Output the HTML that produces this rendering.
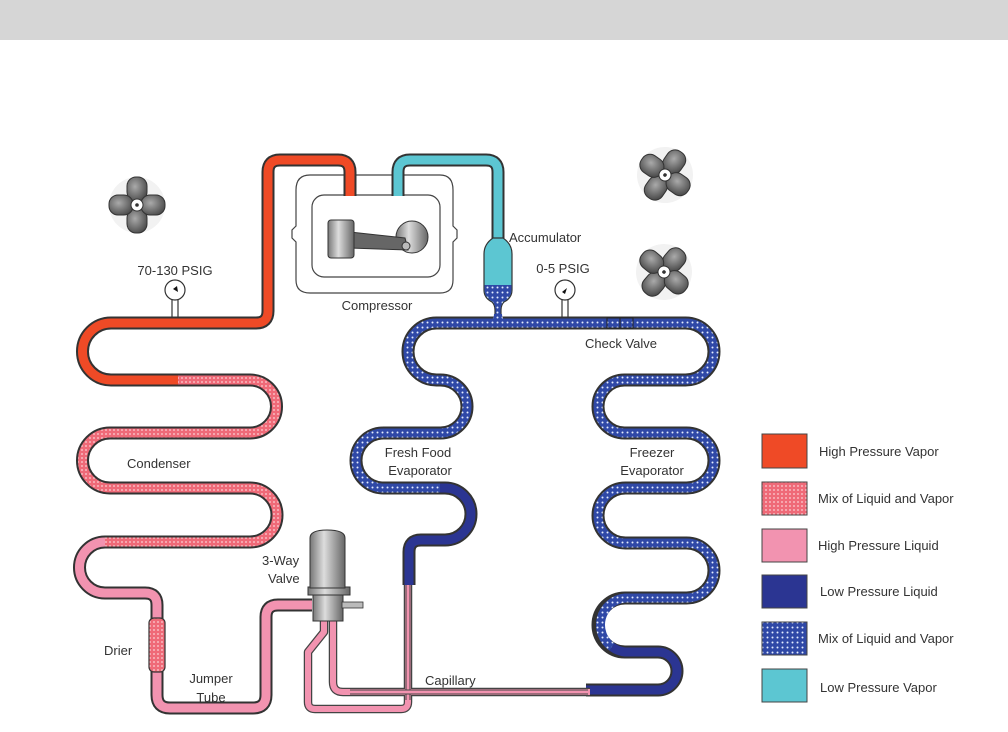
<!DOCTYPE html>
<html><head><meta charset="utf-8"><style>
html,body{margin:0;padding:0;background:#fff;}
svg{display:block;}
text{font-family:"Liberation Sans",Arial,sans-serif;fill:#333;font-size:13px;}
</style></head><body>
<svg width="1008" height="732" viewBox="0 0 1008 732" xmlns="http://www.w3.org/2000/svg">
<defs>
<pattern id="pm" patternUnits="userSpaceOnUse" width="4" height="4"><rect width="4" height="4" fill="#ef6a78"/><circle cx="2" cy="2" r="0.9" fill="#fbd0d4"/></pattern>
<pattern id="bm" patternUnits="userSpaceOnUse" width="5" height="5"><rect width="5" height="5" fill="#2f48a6"/><circle cx="2.5" cy="2.5" r="1" fill="#e4ecff"/></pattern>
<linearGradient id="gv" x1="0" x2="1"><stop offset="0" stop-color="#777"/><stop offset="0.4" stop-color="#ddd"/><stop offset="1" stop-color="#666"/></linearGradient>
<radialGradient id="gb" cx="0.4" cy="0.4" r="0.7"><stop offset="0" stop-color="#aaa"/><stop offset="1" stop-color="#444"/></radialGradient>
<g id="fan">
<circle r="28" fill="#f2f2f2"/>
<rect x="-10" y="-28" width="20" height="24" rx="9" fill="url(#gb)" stroke="#333"/>
<rect x="-10" y="4" width="20" height="24" rx="9" fill="url(#gb)" stroke="#333"/>
<rect x="-28" y="-10" width="24" height="20" rx="9" fill="url(#gb)" stroke="#333"/>
<rect x="4" y="-10" width="24" height="20" rx="9" fill="url(#gb)" stroke="#333"/>
<circle r="6" fill="#fff" stroke="#333"/><circle r="1.8" fill="#333"/>
</g>
</defs>
<rect x="0" y="0" width="1008" height="40" fill="#d6d6d6"/>

<use href="#fan" transform="translate(137,205)"/>
<use href="#fan" transform="translate(665,175) rotate(35)"/>
<use href="#fan" transform="translate(664,272) rotate(40)"/>

<path d="M310,175 H440 Q453,175 453,190 V226 L457,230 V238 L453,242 V280 Q453,293 440,293 H310 Q296,293 296,280 V242 L292,238 V230 L296,226 V190 Q296,175 310,175 Z" fill="#fff" stroke="#444" stroke-width="1.2"/>
<rect x="312" y="195" width="128" height="82" rx="12" fill="#fff" stroke="#444" stroke-width="1.2"/>
<circle cx="412" cy="237" r="16" fill="url(#gv)" stroke="#333"/>
<path d="M350,232 L405,238 L408,250 L350,248 Z" fill="#666" stroke="#333"/>
<circle cx="406" cy="246" r="4" fill="#bbb" stroke="#333"/>
<rect x="328" y="220" width="26" height="38" rx="3" fill="url(#gv)" stroke="#333"/>

<g fill="none" stroke-linejoin="round" stroke-linecap="butt">
<g stroke="#333" stroke-width="13">
<path d="M350,196 V172 Q350,160 338,160 H280 Q268,160 268,172 V311 Q268,323 256,323 H111 A28.5,28.5 0 0 0 111,380 H250 A26.5,26.5 0 0 1 250,433 H110 A27.5,27.5 0 0 0 110,488 H250 A27,27 0 0 1 250,542 H105 A25.5,25.5 0 0 0 105,593 H145 Q157,593 157,605 V695 Q157,708 170,708 H253 Q266,708 266,695 V617 Q266,605 278,605 H312"/>
<path d="M398,196 V172 Q398,160 410,160 H486 Q498,160 498,172 V240"/>
<path d="M436.5,323 H685.5 A28.5,28.5 0 0 1 685.5,380 H624.5 A26.5,26.5 0 0 0 624.5,433 H686.5 A27.5,27.5 0 0 1 686.5,488 H625.5 A27.5,27.5 0 0 0 625.5,543 H686.5 A27.5,27.5 0 0 1 686.5,598 H625 A27,27 0 0 0 625,652 H658 A19,19 0 0 1 658,690 H586"/>
<path d="M436.5,323 A28.5,28.5 0 0 0 436.5,380 H440.5 A26.5,26.5 0 0 1 440.5,433 H383.5 A27.5,27.5 0 0 0 383.5,488 H445 A26,26 0 0 1 445,540 H421 Q409,540 409,552 V585"/>
</g>
<g stroke-width="9">
<path stroke="#ef4a26" d="M350,196 V172 Q350,160 338,160 H280 Q268,160 268,172 V311 Q268,323 256,323 H111 A28.5,28.5 0 0 0 111,380 H178"/>
<path stroke="url(#pm)" d="M178,380 H250 A26.5,26.5 0 0 1 250,433 H110 A27.5,27.5 0 0 0 110,488 H250 A27,27 0 0 1 250,542 H105"/>
<path stroke="#f293b0" d="M105,542 A25.5,25.5 0 0 0 105,593 H145 Q157,593 157,605 V695 Q157,708 170,708 H253 Q266,708 266,695 V617 Q266,605 278,605 H312"/>
<path stroke="#5cc6d2" d="M398,196 V172 Q398,160 410,160 H486 Q498,160 498,172 V240"/>
<path stroke="url(#bm)" d="M436.5,323 H685.5 A28.5,28.5 0 0 1 685.5,380 H624.5 A26.5,26.5 0 0 0 624.5,433 H686.5 A27.5,27.5 0 0 1 686.5,488 H625.5 A27.5,27.5 0 0 0 625.5,543 H686.5 A27.5,27.5 0 0 1 686.5,598 H625 A27,27 0 0 0 612,647"/>
<path stroke="#2b3592" d="M612,647 A27,27 0 0 0 625,652 H658 A19,19 0 0 1 658,690 H586"/>
<path stroke="url(#bm)" d="M436.5,323 A28.5,28.5 0 0 0 436.5,380 H440.5 A26.5,26.5 0 0 1 440.5,433 H383.5 A27.5,27.5 0 0 0 383.5,488 H440"/>
<path stroke="#2b3592" d="M440,488 H445 A26,26 0 0 1 445,540 H421 Q409,540 409,552 V585"/>
</g>
<g stroke="#444" stroke-width="8.5">
<path d="M324,618 V632 L308,652 V702 Q308,709 315,709 H401 Q408,709 408,702 V585"/>
<path d="M333,618 V682 Q333,692 343,692 H590"/>
</g>
<g stroke="#f293b0" stroke-width="6">
<path d="M324,618 V632 L308,652 V702 Q308,709 315,709 H401 Q408,709 408,702 V585"/>
<path d="M333,618 V682 Q333,692 343,692 H590"/>
</g>
</g>
<path d="M408,700 V585" stroke="#444" stroke-width="5" fill="none"/>
<path d="M408,700 V585" stroke="#f293b0" stroke-width="3" fill="none"/>
<path d="M350,692 H588" stroke="#444" stroke-width="5" fill="none"/>
<path d="M350,692 H588" stroke="#f293b0" stroke-width="3" fill="none"/>

<rect x="607" y="318" width="26" height="10" fill="none" stroke="#222" stroke-width="1"/>
<line x1="620" y1="318" x2="620" y2="328" stroke="#222"/>

<!-- accumulator -->
<path d="M493,238 Q484,244 484,254 V290 Q484,298 492,302 Q495,305 495,310 V318 H501 V310 Q501,305 504,302 Q512,298 512,290 V254 Q512,244 503,238 Z" fill="#5cc6d2" stroke="#333" stroke-width="1.2"/>
<path d="M484.6,285 H511.4 V290 Q511.4,297.5 503.5,301.5 Q500.5,305 500.5,310 V318 H495.5 V310 Q495.5,305 492.5,301.5 Q484.6,297.5 484.6,290 Z" fill="url(#bm)"/>
<path d="M494,314 Q494,322 484,322 V324 H512 V322 Q502,322 502,314 Z" fill="url(#bm)"/>

<rect x="149" y="618" width="16" height="54" rx="5" fill="url(#pm)" stroke="#333" stroke-width="1.2"/>

<rect x="313" y="594" width="30" height="27" fill="url(#gv)" stroke="#333"/>
<rect x="342" y="602" width="21" height="6" fill="#bbb" stroke="#333" stroke-width="0.8"/>
<rect x="308" y="587" width="42" height="8" fill="url(#gv)" stroke="#333"/>
<path d="M310,588 V538 Q310,530 327,530 Q345,530 345,538 V588 Z" fill="url(#gv)" stroke="#333"/>

<g stroke="#333" stroke-width="1.2" fill="#fff">
<line x1="172" y1="300" x2="172" y2="317"/><line x1="178" y1="300" x2="178" y2="317"/>
<circle cx="175" cy="290" r="10"/>
<line x1="562" y1="300" x2="562" y2="317"/><line x1="568" y1="300" x2="568" y2="317"/>
<circle cx="565" cy="290" r="10"/>
</g>
<path d="M173,289 L177,286 L178,292 Z" fill="#111"/>
<path d="M562,292 L567,288 L565,294 Z" fill="#111"/>

<text x="175" y="275" text-anchor="middle">70-130 PSIG</text>
<text x="377" y="310" text-anchor="middle">Compressor</text>
<text x="509" y="242">Accumulator</text>
<text x="563" y="273" text-anchor="middle">0-5 PSIG</text>
<text x="621" y="348" text-anchor="middle">Check Valve</text>
<text x="127" y="468">Condenser</text>
<text x="418" y="457" text-anchor="middle">Fresh Food</text>
<text x="420" y="475" text-anchor="middle">Evaporator</text>
<text x="652" y="457" text-anchor="middle">Freezer</text>
<text x="652" y="475" text-anchor="middle">Evaporator</text>
<text x="262" y="565">3-Way</text>
<text x="268" y="583">Valve</text>
<text x="104" y="655">Drier</text>
<text x="211" y="683" text-anchor="middle">Jumper</text>
<text x="211" y="702" text-anchor="middle">Tube</text>
<text x="425" y="685">Capillary</text>

<g stroke="#444" stroke-width="1">
<rect x="762" y="434" width="45" height="34" fill="#ef4a26"/>
<rect x="762" y="482" width="45" height="33" fill="url(#pm)"/>
<rect x="762" y="529" width="45" height="33" fill="#f293b0"/>
<rect x="762" y="575" width="45" height="33" fill="#2b3592"/>
<rect x="762" y="622" width="45" height="33" fill="url(#bm)"/>
<rect x="762" y="669" width="45" height="33" fill="#5cc6d2"/>
</g>
<text x="819" y="456">High Pressure Vapor</text>
<text x="818" y="503">Mix of Liquid and Vapor</text>
<text x="818" y="550">High Pressure Liquid</text>
<text x="820" y="596">Low Pressure Liquid</text>
<text x="818" y="643">Mix of Liquid and Vapor</text>
<text x="820" y="692">Low Pressure Vapor</text>
</svg>
</body></html>
